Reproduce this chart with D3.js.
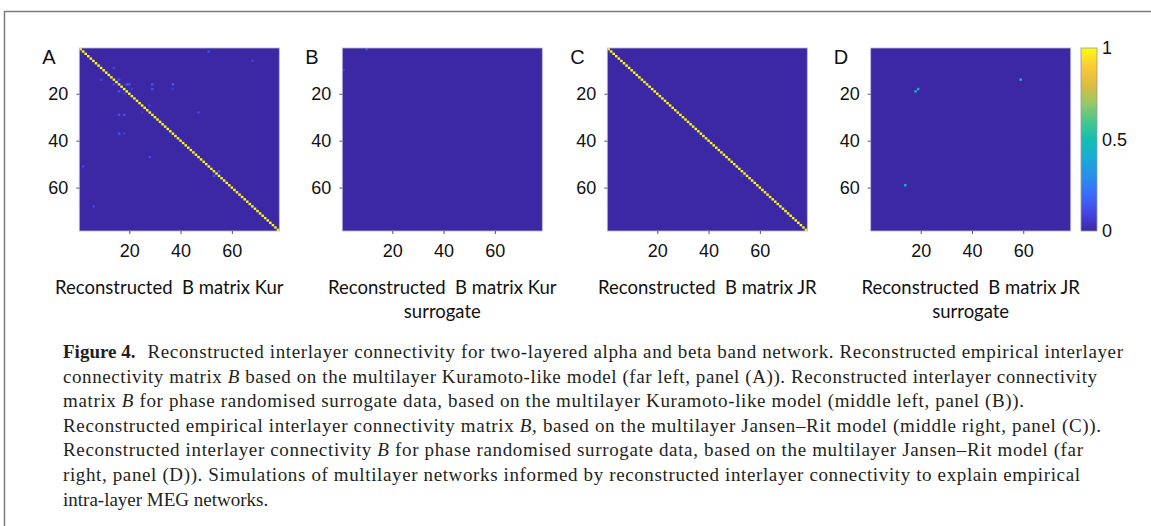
<!DOCTYPE html>
<html>
<head>
<meta charset="utf-8">
<script src="https://cdn.jsdelivr.net/npm/d3@7"></script>
<style>
  html, body { margin: 0; padding: 0; background: #fff; }
  svg { display: block; }
</style>
</head>
<body>
<svg id="fig" width="1151" height="526"></svg>
<script>
// size of every matrix (78 regions)
const N = 78;
const ticks = [20, 40, 60];
const cbTicks = [0, 0.5, 1];
const panelLetters = ["A", "B", "C", "D"];
const titlesLine1 = ["Reconstructed  B matrix Kur", "Reconstructed  B matrix Kur", "Reconstructed  B matrix JR", "Reconstructed  B matrix JR"];
const titlesLine2 = ["", "surrogate", "", "surrogate"];
// value on the diagonal of each matrix
const diagValues = [1, 0, 1, 0];
// off-diagonal non zero entries: [row, col, value]
const entriesA = [
  [2, 51, 0.12], [6, 68, 0.08], [9, 14, 0.1], [14, 9, 0.1], [14, 16, 0.12], [16, 14, 0.1],
  [16, 19, 0.16], [16, 20, 0.14], [16, 29, 0.15], [16, 37, 0.15], [18, 21, 0.06], [18, 29, 0.13],
  [18, 37, 0.07], [19, 16, 0.14], [20, 18, 0.06], [25, 28, 0.06], [28, 25, 0.05], [28, 47, 0.1],
  [29, 16, 0.14], [29, 18, 0.13], [37, 16, 0.14], [37, 18, 0.06], [47, 28, 0.1], [51, 2, 0.1],
  [53, 55, 0.15], [55, 53, 0.14], [68, 6, 0.09]
];
const entriesB = [[1, 10, 0.12], [10, 1, 0.1]];
const entriesC = [[53, 55, 0.06], [55, 53, 0.06]];
const entriesD = [[14, 59, 0.45], [59, 14, 0.45], [18, 19, 0.42], [19, 18, 0.42]];
const captionHead = "Figure 4.";
const captionLines = [
  "Reconstructed interlayer connectivity for two-layered alpha and beta band network. Reconstructed empirical interlayer",
  "connectivity matrix |B| based on the multilayer Kuramoto-like model (far left, panel (A)). Reconstructed interlayer connectivity",
  "matrix |B| for phase randomised surrogate data, based on the multilayer Kuramoto-like model (middle left, panel (B)).",
  "Reconstructed empirical interlayer connectivity matrix |B|, based on the multilayer Jansen\u2013Rit model (middle right, panel (C)).",
  "Reconstructed interlayer connectivity |B| for phase randomised surrogate data, based on the multilayer Jansen\u2013Rit model (far",
  "right, panel (D)). Simulations of multilayer networks informed by reconstructed interlayer connectivity to explain empirical",
  "intra-layer MEG networks."
];
// right end of each justified caption line (last line is left ragged)
const captionEnds = [1123, 1097, 1024, 1101, 1083, 1080, null];

const svg = d3.select("#fig");

// parula like colour map
const parula = d3.scaleLinear()
  .domain([0, 0.1, 0.2, 0.3, 0.4, 0.5, 0.6, 0.7, 0.8, 0.9, 1])
  .range(["#3c28a4", "#4545e6", "#3b6cf9", "#2790ea", "#18acd6", "#16bdb4", "#46c78c", "#99c865", "#dcbd3e", "#fcc937", "#f9fb14"])
  .clamp(true);

// frame round the figure
svg.append("path")
  .attr("d", "M4.5,526 V11.5 H1151")
  .attr("fill", "none")
  .attr("stroke", "#7b7b7b")
  .attr("stroke-width", 1.5);

const panelLeft = [79.3, 342.3, 607.3, 870.7];
const titleShift = [-10, 0, 0, 0];
const plotTop = 48;
const pw = 200, ph = 183;
const allEntries = [entriesA, entriesB, entriesC, entriesD];
const sans = "'Liberation Sans', Arial, sans-serif";

panelLetters.forEach((letter, p) => {
  const x = d3.scaleLinear().domain([0.5, N + 0.5]).range([panelLeft[p], panelLeft[p] + pw]);
  const y = d3.scaleLinear().domain([0.5, N + 0.5]).range([plotTop, plotTop + ph]);

  // cells: diagonal + sparse entries
  const cells = allEntries[p].map(d => ({ r: d[0], c: d[1], v: d[2] }));
  if (diagValues[p] > 0) {
    d3.range(1, N + 1).forEach(i => cells.push({ r: i, c: i, v: diagValues[p] }));
  }

  const g = svg.append("g");

  // background = value 0
  g.append("rect")
    .attr("x", x(0.5)).attr("y", y(0.5))
    .attr("width", x(N + 0.5) - x(0.5)).attr("height", y(N + 0.5) - y(0.5))
    .attr("fill", parula(0));

  g.selectAll("rect.cell")
    .data(cells)
    .join("rect")
    .attr("class", "cell")
    .attr("x", d => x(d.c - 0.5))
    .attr("y", d => y(d.r - 0.5))
    .attr("width", x(1.5) - x(0.5))
    .attr("height", y(1.5) - y(0.5))
    .attr("fill", d => parula(d.v));

  // thin axes box
  g.append("rect")
    .attr("x", x(0.5)).attr("y", y(0.5))
    .attr("width", x(N + 0.5) - x(0.5)).attr("height", y(N + 0.5) - y(0.5))
    .attr("fill", "none")
    .attr("stroke", "#b9b6e0")
    .attr("stroke-width", 0.8);

  // x axis
  const gx = svg.append("g")
    .attr("transform", `translate(0, ${plotTop + ph})`)
    .call(d3.axisBottom(x).tickValues(ticks).tickSize(3).tickPadding(10));
  // y axis
  const gy = svg.append("g")
    .attr("transform", `translate(${panelLeft[p]}, 0)`)
    .call(d3.axisLeft(y).tickValues(ticks).tickSize(3).tickPadding(8));

  [gx, gy].forEach(a => {
    a.select(".domain").remove();
    a.selectAll("line").attr("stroke", "#555");
    a.selectAll("text")
      .attr("fill", "#111")
      .style("font-family", sans)
      .style("font-size", "18px");
  });

  // panel letter
  svg.append("text")
    .attr("x", panelLeft[p] - 37)
    .attr("y", 64)
    .attr("fill", "#111")
    .style("font-family", sans)
    .style("font-size", "20px")
    .text(letter);

  // panel title
  const cx = panelLeft[p] + pw / 2 + titleShift[p];
  svg.append("text")
    .attr("x", cx).attr("y", 294)
    .attr("text-anchor", "middle")
    .attr("fill", "#111")
    .style("font-family", "Lato, 'Open Sans', sans-serif")
    .style("font-size", "18.5px")
    .style("white-space", "pre")
    .text(titlesLine1[p]);
  if (titlesLine2[p]) {
    svg.append("text")
      .attr("x", cx).attr("y", 318)
      .attr("text-anchor", "middle")
      .attr("fill", "#111")
      .style("font-family", "Lato, 'Open Sans', sans-serif")
      .style("font-size", "18.5px")
      .text(titlesLine2[p]);
  }
});

// colour bar
const cbX = 1081, cbW = 16;
const cbY = d3.scaleLinear().domain([0, 1]).range([plotTop + ph, plotTop]);
const grad = svg.append("defs").append("linearGradient")
  .attr("id", "cb").attr("x1", 0).attr("y1", 1).attr("x2", 0).attr("y2", 0);
grad.selectAll("stop")
  .data(parula.domain())
  .join("stop")
  .attr("offset", d => d)
  .attr("stop-color", d => parula(d));
svg.append("rect")
  .attr("x", cbX).attr("y", cbY(1))
  .attr("width", cbW).attr("height", cbY(0) - cbY(1))
  .attr("fill", "url(#cb)")
  .attr("stroke", "#9a9a9a")
  .attr("stroke-width", 0.8);
const gcb = svg.append("g")
  .attr("transform", `translate(${cbX + cbW}, 0)`)
  .call(d3.axisRight(cbY).tickValues(cbTicks).tickFormat(d3.format("")).tickSize(0).tickPadding(5));
gcb.select(".domain").remove();
gcb.selectAll("text")
  .attr("fill", "#111")
  .style("font-family", sans)
  .style("font-size", "18px");

// caption
const capFont = "'Liberation Serif', 'Times New Roman', serif";
const capLeft = 63, capTop = 358, capStep = 24.6, capSize = "19px";
const head = svg.append("text")
  .attr("x", capLeft).attr("y", capTop)
  .attr("fill", "#231f20")
  .style("font-family", capFont)
  .style("font-size", capSize)
  .style("font-weight", "bold")
  .text(captionHead);
const headEnd = capLeft + head.node().getComputedTextLength() + 12;

captionLines.forEach((line, i) => {
  const x0 = i === 0 ? headEnd : capLeft;
  const t = svg.append("text")
    .attr("x", x0)
    .attr("y", capTop + i * capStep)
    .attr("fill", "#231f20")
    .style("font-family", capFont)
    .style("font-size", capSize);
  line.split("|").forEach((part, k) => {
    t.append("tspan")
      .style("font-style", k % 2 === 1 ? "italic" : "normal")
      .text(part);
  });
  if (captionEnds[i]) {
    t.attr("textLength", captionEnds[i] - x0).attr("lengthAdjust", "spacing");
  }
});
</script>
</body>
</html>
